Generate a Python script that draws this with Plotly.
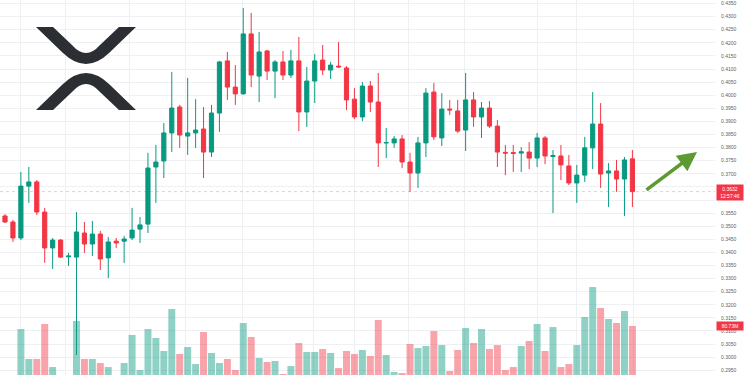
import plotly.graph_objects as go

# ---------------- data ----------------
opens = [0.3539,0.3516,0.3455,0.3653,0.3669,0.3554,0.3417,0.3447,0.3383,0.3382,
 0.3474,0.3432,0.3470,0.3379,0.3443,0.3443,0.3455,0.3489,0.3508,0.3726,
 0.3749,0.3856,0.3955,0.3844,0.3856,0.3871,0.3783,0.3932,0.4131,0.4031,
 0.4005,0.4234,0.4073,0.4169,0.4092,0.4127,0.4077,0.4131,0.3936,0.4054,
 0.4134,0.4096,0.4111,0.4104,0.3985,0.3917,0.4035,0.3974,0.3818,0.3818,
 0.3833,0.3745,0.3703,0.3818,0.4012,0.3837,0.3947,0.3940,0.3867,0.3982,
 0.3917,0.3951,0.3882,0.3782,0.3781,0.3779,0.3783,0.3760,0.3837,0.3766,
 0.3768,0.3730,0.3665,0.3695,0.3799,0.3890,0.3703,0.3711,0.3680,0.3757]

highs = [0.3546,0.3524,0.3707,0.3726,0.3676,0.3570,0.3455,0.3451,0.3398,0.3554,
 0.3516,0.3520,0.3482,0.3459,0.3455,0.3463,0.3570,0.3535,0.3780,0.3810,
 0.3894,0.4089,0.3963,0.4066,0.3985,0.3955,0.3963,0.4131,0.4165,0.4115,
 0.4333,0.4314,0.4241,0.4173,0.4134,0.4169,0.4173,0.4222,0.4108,0.4157,
 0.4192,0.4127,0.4203,0.4111,0.4027,0.4050,0.4054,0.4085,0.3875,0.3844,
 0.3848,0.3780,0.3841,0.4027,0.4047,0.4008,0.3982,0.3982,0.4085,0.4012,
 0.3974,0.3978,0.3905,0.3810,0.3810,0.3802,0.3821,0.3856,0.3844,0.3791,
 0.3810,0.3772,0.3734,0.3841,0.4012,0.3970,0.3741,0.3753,0.3764,0.3791]

lows = [0.3512,0.3440,0.3447,0.3589,0.3543,0.3360,0.3337,0.3379,0.3348,0.3008,
 0.3398,0.3386,0.3333,0.3302,0.3417,0.3360,0.3447,0.3436,0.3474,0.3589,
 0.3684,0.3783,0.3799,0.3772,0.3799,0.3684,0.3764,0.3860,0.3982,0.3963,
 0.4003,0.4031,0.3974,0.4058,0.3989,0.4058,0.4066,0.3863,0.3879,0.3970,
 0.4077,0.4062,0.4104,0.3943,0.3909,0.3901,0.3936,0.3726,0.3760,0.3799,
 0.3722,0.3631,0.3646,0.3764,0.3829,0.3806,0.3924,0.3856,0.3787,0.3879,
 0.3837,0.3875,0.3726,0.3695,0.3707,0.3707,0.3718,0.3726,0.3737,0.3550,
 0.3676,0.3657,0.3589,0.3669,0.3718,0.3646,0.3573,0.3631,0.3539,0.3573]

closes = [0.3516,0.3455,0.3653,0.3669,0.3554,0.3417,0.3447,0.3382,0.3386,0.3478,
 0.3432,0.3470,0.3375,0.3440,0.3436,0.3451,0.3485,0.3505,0.3722,0.3745,
 0.3856,0.3951,0.3848,0.3856,0.3867,0.3783,0.3932,0.4127,0.4031,0.4005,
 0.4234,0.4077,0.4165,0.4092,0.4127,0.4077,0.4131,0.3936,0.4054,0.4131,
 0.4096,0.4115,0.4108,0.3982,0.3917,0.4035,0.3974,0.3818,0.3819,0.3833,
 0.3745,0.3703,0.3818,0.4008,0.3841,0.3947,0.3944,0.3863,0.3982,0.3917,
 0.3951,0.3882,0.3783,0.3779,0.3778,0.3784,0.3760,0.3837,0.3768,0.3770,
 0.3734,0.3665,0.3695,0.3799,0.3890,0.3699,0.3711,0.3680,0.3753,0.3632]

volumes_m = [4.5,4.5,76.2,31.4,31.4,83.7,19.4,4.0,3.0,88.2,
 31.4,31.4,25.4,19.4,3.0,25.4,67.3,15.0,76.2,62.8,
 43.4,106.1,38.9,49.3,23.9,71.8,40.4,25.4,31.4,15.0,
 85.2,64.3,32.9,26.9,28.4,9.0,20.9,55.3,41.9,41.9,
 46.3,40.4,17.9,43.4,38.9,44.9,35.9,89.7,37.4,12.0,
 10.5,53.8,47.8,50.8,73.3,52.3,13.5,44.9,77.7,55.3,
 76.2,46.3,52.3,15.0,19.4,50.8,58.3,83.7,43.4,79.2,
 19.4,23.9,52.3,94.2,139.0,107.6,91.2,85.2,103.2,80.73]

price_ticks = [round(0.2950 + 0.005 * k, 4) for k in range(29)]
hidden_tick = 0.3600          # covered by the last-price label in the original
last_price_text = "0.3632"
countdown_text = "12:57:46"
last_volume_text = "80.73M"

# ---------------- styling ----------------
UP = "#089981"
DOWN = "#F23645"
UP_VOL = "rgba(8,153,129,0.45)"
DOWN_VOL = "rgba(242,54,69,0.45)"
GRID = "#eef0f4"

W, H = 750, 375
MR = 35
PW, PH = W - MR, H

idx = list(range(len(opens)))
volumes = [v * 1e6 for v in volumes_m]
vol_colors = [UP_VOL if c >= o else DOWN_VOL for o, c in zip(opens, closes)]
tick_text = ["" if abs(t - hidden_tick) < 1e-9 else f"{t:.4f}" for t in price_ticks]

fig = go.Figure()

fig.add_trace(go.Bar(
    x=idx, y=volumes, marker=dict(color=vol_colors, line=dict(width=0)),
    yaxis="y", hoverinfo="skip", showlegend=False,
))

fig.add_trace(go.Candlestick(
    x=idx, open=opens, high=highs, low=lows, close=closes,
    yaxis="y2",
    increasing=dict(line=dict(color=UP, width=1), fillcolor=UP),
    decreasing=dict(line=dict(color=DOWN, width=1), fillcolor=DOWN),
    whiskerwidth=0, showlegend=False, hoverinfo="skip",
))

grid_x = [1.9, 7.6, 15.7, 22.7, 29.85, 38.9, 43.95, 50.8, 57.8, 67.0, 72.0, 79.1]

fig.update_layout(
    width=W, height=H,
    margin=dict(l=0, r=MR, t=0, b=0),
    paper_bgcolor="white", plot_bgcolor="white",
    bargap=0.12, boxgap=0.25,
    showlegend=False,
    font=dict(family="Liberation Sans, Arial, sans-serif"),
    xaxis=dict(
        range=[-0.63, 89.4], showticklabels=False, ticks="",
        tickvals=grid_x, showgrid=True, gridcolor=GRID, gridwidth=1,
        zeroline=False, rangeslider=dict(visible=False), fixedrange=True,
        showline=False,
    ),
    yaxis=dict(
        range=[7.5e6, 568.1e6], visible=False, showgrid=False, zeroline=False,
    ),
    yaxis2=dict(
        overlaying="y", side="right", range=[0.29320, 0.43634],
        tickvals=price_ticks, ticktext=tick_text,
        tickfont=dict(size=5, color="#5d606b"),
        showgrid=True, gridcolor=GRID, gridwidth=1, zeroline=False,
        ticks="", ticklabelstandoff=5, showline=False,
    ),
)

# last price line
fig.add_shape(type="line", xref="paper", x0=0, x1=1, yref="y2",
              y0=closes[-1], y1=closes[-1],
              line=dict(color="rgba(242,54,69,0.3)", width=1, dash="dot"))

# price label
fig.add_annotation(xref="paper", x=1, xanchor="left", xshift=1,
                   yref="y2", y=closes[-1], yanchor="middle", yshift=-1,
                   text=f"{last_price_text}<br>{countdown_text}", showarrow=False,
                   font=dict(size=5, color="white"), bgcolor=DOWN,
                   borderpad=1, width=24, align="center")
# volume label
fig.add_annotation(xref="paper", x=1, xanchor="left", xshift=1,
                   yref="y", y=volumes[-1], yanchor="middle",
                   text=last_volume_text, showarrow=False,
                   font=dict(size=5, color="white"), bgcolor=DOWN,
                   borderpad=1, width=24, align="center")

# XRP logo (decorative), defined in pixel space and converted to paper
def P(x, y):
    return f"{x / PW:.5f},{1 - y / PH:.5f}"

top_path = (f"M {P(36,27)} L {P(53,27)} L {P(72,45)} Q {P(86,61)} {P(100,45)} "
            f"L {P(119,27)} L {P(136,27)} L {P(109,53)} Q {P(86,75)} {P(63,53)} Z")
bot_path = (f"M {P(36,110)} L {P(53,110)} L {P(72,92)} Q {P(86,76)} {P(100,92)} "
            f"L {P(119,110)} L {P(136,110)} L {P(109,84)} Q {P(86,62)} {P(63,84)} Z")
for pth in (top_path, bot_path):
    fig.add_shape(type="path", xref="paper", yref="paper", path=pth,
                  fillcolor="#2b2e33", line=dict(width=0), layer="above")

# green arrow
fig.add_annotation(xref="paper", yref="paper", x=697 / PW, y=1 - 152 / PH,
                   ax=-52, ay=39, text="", showarrow=True,
                   arrowhead=2, arrowsize=1.1, arrowwidth=3.5,
                   arrowcolor="#5c9b2f")

fig.write_html(
    "out.html",
    config={"displayModeBar": False, "staticPlot": True},
    post_script="document.body.style.margin='0';document.body.style.overflow='hidden';",
)
